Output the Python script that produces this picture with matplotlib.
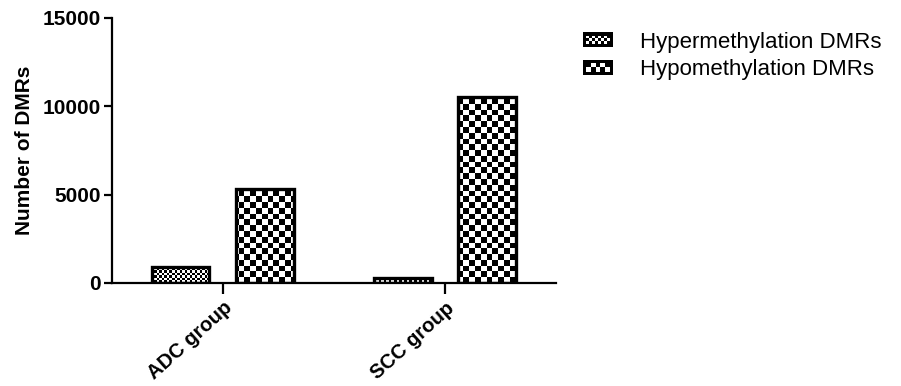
import numpy as np
import matplotlib
matplotlib.use("Agg")
import matplotlib.pyplot as plt
from matplotlib.patches import Rectangle
from matplotlib.legend_handler import HandlerBase

plt.rcParams['font.family'] = ['Liberation Sans', 'DejaVu Sans']

groups = ['ADC group', 'SCC group']
series = ['Hypermethylation DMRs', 'Hypomethylation DMRs']
hyper = [900, 300]
hypo = [5300, 10500]
yticks = [0, 5000, 10000, 15000]


def checker(nx, ny):
    return (np.add.outer(np.arange(ny), np.arange(nx)) % 2).astype(float)


class CheckerHandler(HandlerBase):
    # black box with a small checker pattern inside, like the legend in the figure
    def __init__(self, nx, ny):
        super().__init__()
        self.nx = nx
        self.ny = ny

    def create_artists(self, legend, orig_handle, xdescent, ydescent,
                       width, height, fontsize, trans):
        x0, y0 = -xdescent, -ydescent
        arts = [Rectangle((x0, y0), width, height, facecolor='black',
                          edgecolor='black', lw=0, transform=trans)]
        b = 0.22 * height
        cw = (width - 2 * b) / self.nx
        ch = (height - 2 * b) / self.ny
        for i in range(self.nx):
            for j in range(self.ny):
                if (i + j) % 2 == 0:
                    arts.append(Rectangle((x0 + b + i * cw, y0 + b + j * ch), cw, ch,
                                          facecolor='white', lw=0, transform=trans))
        return arts


fig = plt.figure(figsize=(9.01, 3.86), dpi=100)
ax = fig.add_axes([0.124, 0.267, 0.493, 0.687])

x = np.arange(len(groups))
w = 0.26
off = 0.19
bars1 = ax.bar(x - off, hyper, w, facecolor='none', edgecolor='black', lw=2.4, zorder=3)
bars2 = ax.bar(x + off, hypo, w, facecolor='none', edgecolor='black', lw=2.4, zorder=3)

fine = checker(178, 106)
coarse = checker(77, 46)
for bars, pat in [(bars1, fine), (bars2, coarse)]:
    for b in bars:
        im = ax.imshow(pat, cmap='gray', vmin=0, vmax=1, interpolation='nearest',
                       extent=[0, 1, 0, 1], transform=ax.transAxes, aspect='auto', zorder=2)
        im.set_clip_path(b)

ax.set_xlim(-0.5, 1.5)
ax.set_ylim(0, 15000)
ax.set_yticks(yticks)
ax.set_yticklabels([str(v) for v in yticks], fontsize=15, fontweight='bold')
ax.set_xticks(x)
ax.set_xticklabels(groups, rotation=42, ha='right', rotation_mode='anchor',
                   fontsize=14.5, fontweight='bold')
ax.set_ylabel('Number of DMRs', fontsize=15, fontweight='bold', labelpad=6)

for s in ['top', 'right']:
    ax.spines[s].set_visible(False)
for s in ['left', 'bottom']:
    ax.spines[s].set_linewidth(1.6)
ax.tick_params(axis='y', length=6, width=1.6, pad=2)
ax.tick_params(axis='x', length=8, width=1.6, pad=3)

h1 = Rectangle((0, 0), 1, 1)
h2 = Rectangle((0, 1), 1, 1)
fig.legend([h1, h2], series, loc='upper left', bbox_to_anchor=(0.625, 0.97),
           frameon=False, fontsize=16, handlelength=1.35, handleheight=0.65,
           handletextpad=1.2, labelspacing=0.3,
           handler_map={h1: CheckerHandler(8, 3), h2: CheckerHandler(5, 2)})

fig.savefig('out.png', dpi=100)
